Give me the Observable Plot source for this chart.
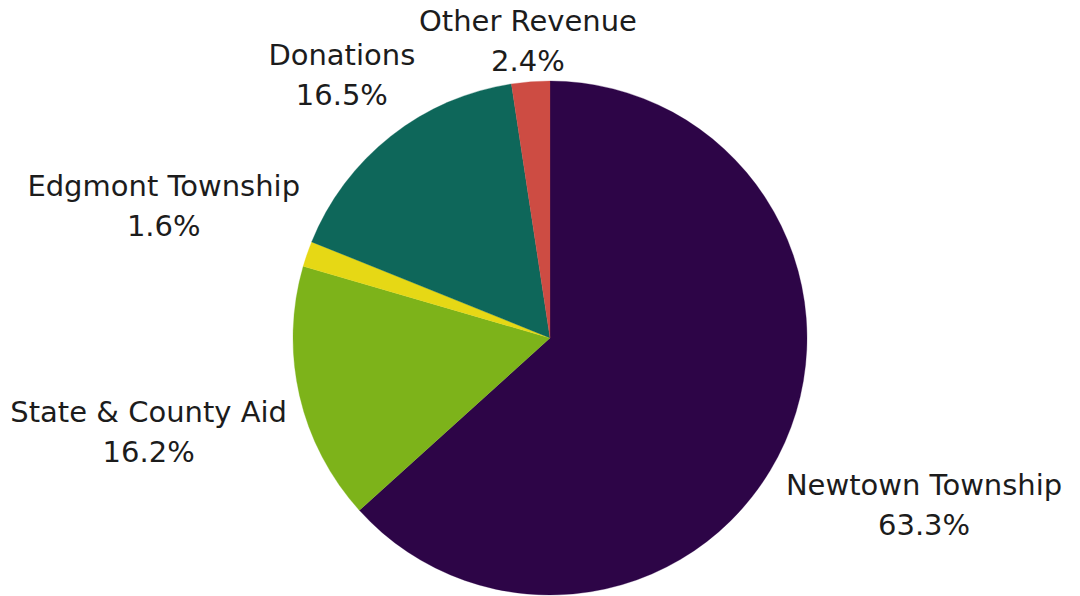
<!DOCTYPE html>
<html>
<head>
<meta charset="utf-8">
<script src="https://cdn.jsdelivr.net/npm/d3@7"></script>
<script src="https://cdn.jsdelivr.net/npm/@observablehq/plot@0.6"></script>
<style>
  html, body { margin: 0; padding: 0; background: #fff; }
  #chart svg { display: block; }
</style>
</head>
<body>
<div id="chart"></div>
<script>
// ---- data ----
const categories = ["Newtown Township", "State & County Aid", "Edgmont Township", "Donations", "Other Revenue"];
const shares = [63.3, 16.2, 1.6, 16.5, 2.4];
const colors = ["#2d0547", "#7db31a", "#e6d815", "#0e675a", "#cd4c43"];

// ---- layout ----
const W = 1080, H = 596;
const center = {x: 550, y: 338};
const radius = 257;
const fontSize = 29;
const fontFamily = "'DejaVu Sans', sans-serif";
const lineHeight = 1.38;

const data = categories.map((name, i) => ({name, value: shares[i]}));
const arcs = d3.pie().sort(null).value(d => d.value).startAngle(0).endAngle(2 * Math.PI)(data);

const color = Plot.scale({color: {type: "ordinal", domain: categories, range: colors}});

// measure label widths
const ctx = document.createElement("canvas").getContext("2d");
ctx.font = `${fontSize}px ${fontFamily}`;
const blockH = (0.73 + lineHeight) * fontSize;

const labels = arcs.map(a => {
  const t = (a.startAngle + a.endAngle) / 2;
  const s = Math.sin(t), c = Math.cos(t);
  const pct = a.data.value.toFixed(1) + "%";
  const w = Math.max(ctx.measureText(a.data.name).width, ctx.measureText(pct).width);
  const R = radius + 3 + 11 * Math.abs(s) + (w / 2) * Math.abs(s) + (blockH / 2) * Math.abs(c);
  return {
    x: center.x + R * s,
    y: center.y - R * c - 2,
    text: a.data.name + "\n" + pct
  };
});

function pieMark(index, scales) {
  const cx = scales.x(center.x), cy = scales.y(center.y);
  const rr = scales.x(center.x + radius) - cx;
  const arcGen = d3.arc().innerRadius(0).outerRadius(rr);
  const g = d3.create("svg:g").attr("transform", `translate(${cx},${cy})`);
  g.selectAll("path")
    .data(arcs)
    .join("path")
    .attr("d", arcGen)
    .attr("fill", d => color.apply(d.data.name))
    .attr("stroke", d => color.apply(d.data.name))
    .attr("stroke-width", 0.3);
  return g.node();
}

const chart = Plot.plot({
  width: W,
  height: H,
  margin: 0,
  x: {domain: [0, W], range: [0, W], axis: null},
  y: {domain: [0, H], range: [0, H], axis: null},
  style: {fontFamily: fontFamily, background: "#fff"},
  marks: [
    pieMark,
    Plot.text(labels, {
      x: "x",
      y: "y",
      text: "text",
      fontSize: fontSize,
      lineHeight: lineHeight,
      lineAnchor: "middle",
      textAnchor: "middle",
      fill: "#1c1c1c"
    })
  ]
});

document.getElementById("chart").appendChild(chart);
</script>
</body>
</html>
